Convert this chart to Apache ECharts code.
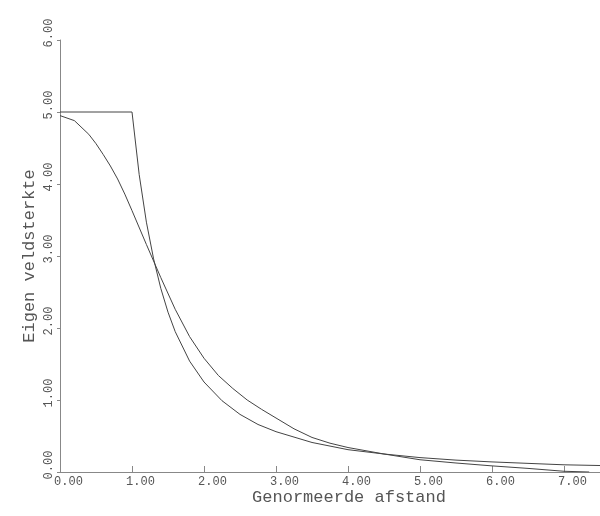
<!DOCTYPE html>
<html>
<head>
<meta charset="utf-8">
<script src="https://cdn.jsdelivr.net/npm/echarts@6/dist/echarts.min.js"></script>
<style>html,body{margin:0;padding:0;background:#fff}#c{width:600px;height:516px}</style>
</head>
<body>
<div id="c"></div>
<script>
var xTitle = 'Genormeerde afstand';
var yTitle = 'Eigen veldsterkte';
var xTicks = [0, 1, 2, 3, 4, 5, 6, 7];
var yTicks = [0, 1, 2, 3, 4, 5, 6];

var s1x = [0, 1.0, 1.1, 1.2, 1.3, 1.4, 1.5, 1.6, 1.8, 2.0, 2.25, 2.5, 2.75, 3.0, 3.5, 4.0, 4.5, 5.0, 5.5, 6.0, 6.5, 7.0, 7.5];
var s1y = [5, 5, 4.13, 3.47, 2.96, 2.55, 2.22, 1.95, 1.54, 1.25, 0.99, 0.80, 0.66, 0.56, 0.41, 0.31, 0.25, 0.20, 0.165, 0.14, 0.12, 0.10, 0.09];

var s2x = [0, 0.2, 0.4, 0.5, 0.6, 0.7, 0.8, 0.9, 1.0, 1.2, 1.4, 1.6, 1.8, 2.0, 2.2, 2.4, 2.6, 2.8, 3.0, 3.25, 3.5, 3.75, 4.0, 4.5, 5.0, 5.5, 6.0, 6.5, 7.0, 7.35];
var s2y = [4.95, 4.88, 4.69, 4.56, 4.41, 4.25, 4.07, 3.86, 3.63, 3.16, 2.70, 2.26, 1.88, 1.58, 1.34, 1.16, 1.00, 0.87, 0.75, 0.60, 0.48, 0.40, 0.34, 0.25, 0.17, 0.125, 0.085, 0.05, 0.01, 0.0];

function pairs(xs, ys) { return xs.map(function (x, i) { return [x, ys[i]]; }); }

var font = '"Liberation Mono", "DejaVu Sans Mono", monospace';
var chart = echarts.init(document.getElementById('c'));
chart.setOption({
  animation: false,
  backgroundColor: '#ffffff',
  grid: { left: 60, right: 0, top: 40, bottom: 44, containLabel: false },
  xAxis: {
    type: 'value', min: 0, max: 7.5, interval: 1,
    name: xTitle, nameLocation: 'middle', nameGap: 17, nameMoveOverlap: false,
    nameTextStyle: { fontFamily: font, fontSize: 17, color: '#555', padding: [0, 0, 0, 38] },
    axisLine: { lineStyle: { color: '#888', width: 1 } },
    axisTick: { show: true, inside: true, length: 6, lineStyle: { color: '#888' } },
    splitLine: { show: false },
    axisLabel: {
      fontFamily: font, fontSize: 12, color: '#555', margin: 4,
      showMaxLabel: false, padding: [0, 0, 0, 17],
      formatter: function (v) { return xTicks.indexOf(v) >= 0 ? v.toFixed(2) : ''; }
    }
  },
  yAxis: {
    type: 'value', min: 0, max: 6, interval: 1,
    name: yTitle, nameLocation: 'middle', nameGap: 22, nameMoveOverlap: false,
    nameTextStyle: { fontFamily: font, fontSize: 17, color: '#555' },
    axisLine: { show: true, lineStyle: { color: '#888', width: 1 } },
    axisTick: { show: true, inside: false, length: 3, lineStyle: { color: '#888' } },
    splitLine: { show: false },
    axisLabel: {
      fontFamily: font, fontSize: 12, color: '#555', margin: 5, rotate: 90,
      padding: [0, 0, 0, 14],
      formatter: function (v) { return yTicks.indexOf(v) >= 0 ? v.toFixed(2) : ''; }
    }
  },
  series: [
    { type: 'line', data: pairs(s1x, s1y), showSymbol: false, smooth: false,
      lineStyle: { color: '#444', width: 1 } },
    { type: 'line', data: pairs(s2x, s2y), showSymbol: false, smooth: false,
      lineStyle: { color: '#444', width: 1 } }
  ]
});
</script>
</body>
</html>
